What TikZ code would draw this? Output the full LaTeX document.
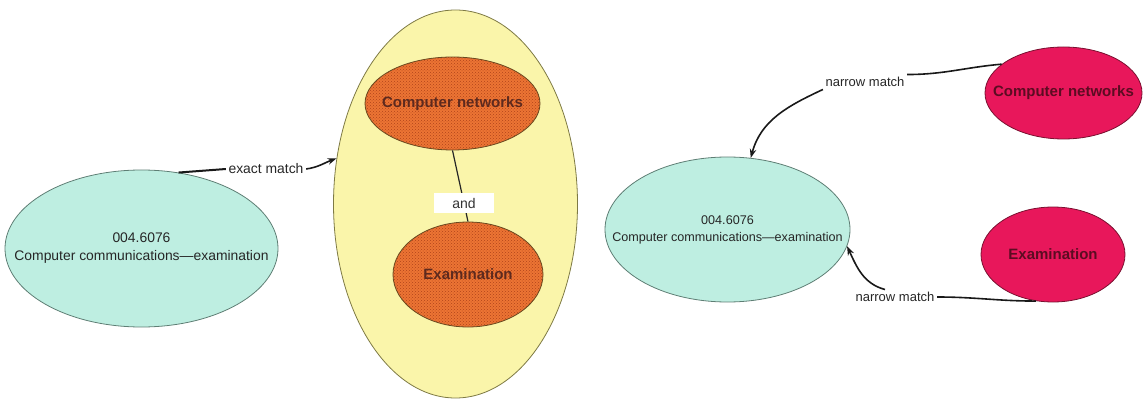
\documentclass[tikz,border=0pt]{standalone}
\usepackage{fontspec}
\setmainfont{Liberation Sans}
\usetikzlibrary{shapes.geometric,arrows.meta,patterns}

\definecolor{tealfill}{HTML}{BEEEE1}
\definecolor{tealline}{HTML}{5E7E74}
\definecolor{paleyellow}{HTML}{FAF5AA}
\definecolor{yellowline}{HTML}{7E7A44}
\definecolor{orangefill}{HTML}{EC7434}
\definecolor{orangedot}{HTML}{B0441A}
\definecolor{orangeline}{HTML}{6A4A20}
\definecolor{orangetext}{HTML}{5E2A1E}
\definecolor{crimson}{HTML}{E8175B}
\definecolor{crimsonline}{HTML}{7A1030}
\definecolor{crimsontext}{HTML}{5C0C22}

\begin{document}
\begin{tikzpicture}[x=1pt,y=-1pt]
\tikzset{
  oval/.style={ellipse, inner sep=0pt, line width=0.8pt},
  classoval/.style={oval, fill=tealfill, draw=tealline},
  groupoval/.style={oval, fill=paleyellow, draw=yellowline},
  dotoval/.style={oval, draw=orangeline, preaction={fill=orangefill},
    pattern=crosshatch dots, pattern color=orangedot},
  subjoval/.style={oval, fill=crimson, draw=crimsonline},
  classtext/.style={align=center, text=black!85, inner sep=0pt},
  dottext/.style={font=\bfseries\fontsize{15}{18}\selectfont, text=orangetext, inner sep=0pt},
  subjtext/.style={font=\bfseries\fontsize{15}{18}\selectfont, text=crimsontext, inner sep=0pt},
  rel/.style={font=\fontsize{13}{15}\selectfont, text=black!85, inner sep=2.5pt},
  conn/.style={line width=1.6pt, black!90},
  arr/.style={conn, -{Stealth[length=9pt,width=6.5pt]}},
  andbox/.style={fill=white, minimum width=60pt, minimum height=20pt, inner sep=0pt,
    font=\fontsize{14}{16}\selectfont, text=black!80}
}
\useasboundingbox (0,0) rectangle (1146,401);

% left: class number and its exact match
\node[classoval, minimum width=273pt, minimum height=157pt] (lc) at (141.5,248.5) {};
\node[classtext, font=\fontsize{13.9}{18}\selectfont] (lctext) at (lc.center)
  {004.6076\\Computer communications---examination};

\node[groupoval, minimum width=244pt, minimum height=388pt] (ye) at (455.5,204) {};
\node[dotoval, minimum width=175pt, minimum height=93pt] (on1) at (452.5,103.5) {};
\node[dottext] (on1text) at (on1.center) {Computer networks};
\node[dotoval, minimum width=150pt, minimum height=105pt] (on2) at (468,274.5) {};
\node[dottext] (on2text) at (on2.center) {Examination};
\draw[line width=1.2pt, black!85] (on1.south) -- (on2.north)
  node[andbox, pos=0.74] (andl) {and};

\node[rel, font=\fontsize{13.9}{16}\selectfont] (em) at (266,169) {exact match};
\draw[conn, line width=2pt] (lc.64) -- (em.west);
\draw[arr] (em.east) to[out=8,in=200] (ye.159);

% right: class number and its narrow matches
\node[classoval, minimum width=245pt, minimum height=145pt] (rc) at (727.5,229.5) {};
\node[classtext, font=\fontsize{12.6}{17}\selectfont] (rctext) at (rc.center)
  {004.6076\\Computer communications---examination};

\node[subjoval, minimum width=157pt, minimum height=92pt] (rn) at (1063.5,93) {};
\node[subjtext] (rntext) at (rn.center) {Computer networks};
\node[subjoval, minimum width=144pt, minimum height=95pt] (re) at (1053,254.5) {};
\node[subjtext] (retext) at (re.center) {Examination};

\node[rel] (nm1) at (865,82) {narrow match};
\draw[conn] (rn.155) to[out=185,in=0] (nm1.north east);
\draw[arr] (nm1.south west) to[out=205,in=75] (rc.72);

\node[rel] (nm2) at (895,297) {narrow match};
\draw[conn] (re.250) to[out=180,in=0] (nm2.east);
\draw[arr] ([xshift=-10pt]nm2.north) to[out=165,in=-65] (rc.-8);
\end{tikzpicture}
\end{document}
